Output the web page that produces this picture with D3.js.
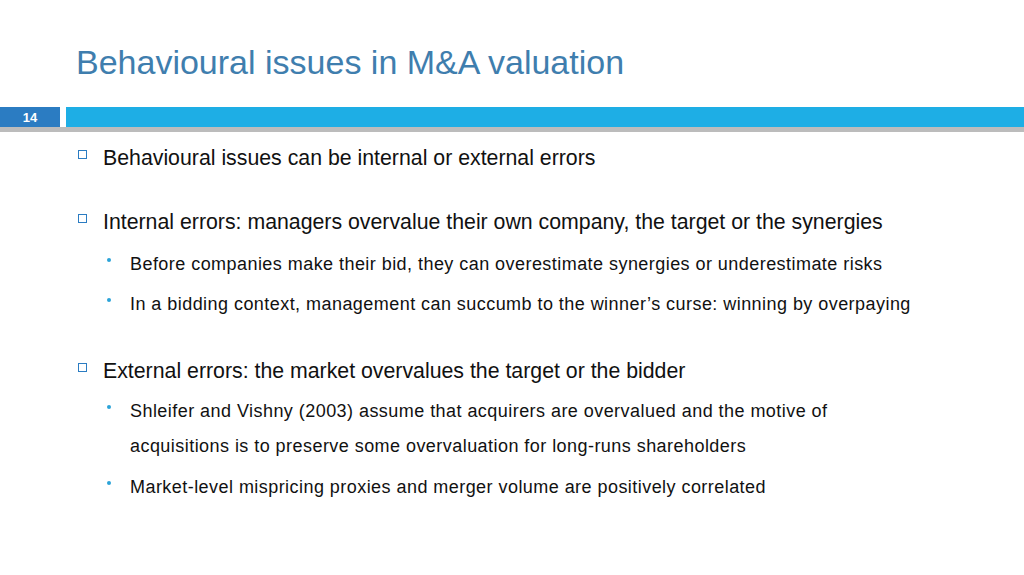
<!DOCTYPE html>
<html><head><meta charset="utf-8">
<script src="https://cdn.jsdelivr.net/npm/d3@7"></script>
<style>body{margin:0;background:#fff}svg{display:block;font-family:"Liberation Sans",Arial,sans-serif}</style>
</head><body>
<script>
const title = "Behavioural issues in M&A valuation";
const slideNumber = "14";
const lines = [
  {level: 1, text: "Behavioural issues can be internal or external errors", y: 165},
  {level: 1, text: "Internal errors: managers overvalue their own company, the target or the synergies", y: 229},
  {level: 2, text: "Before companies make their bid, they can overestimate synergies or underestimate risks", y: 270},
  {level: 2, text: "In a bidding context, management can succumb to the winner\u2019s curse: winning by overpaying", y: 310},
  {level: 1, text: "External errors: the market overvalues the target or the bidder", y: 378},
  {level: 2, text: "Shleifer and Vishny (2003) assume that acquirers are overvalued and the motive of", y: 417},
  {level: 0, text: "acquisitions is to preserve some overvaluation for long-runs shareholders", y: 452},
  {level: 2, text: "Market-level mispricing proxies and merger volume are positively correlated", y: 493}
];

const svg = d3.select("body").append("svg").attr("width", 1024).attr("height", 575);

svg.append("text").attr("x", 76).attr("y", 74).attr("font-size", 34)
  .attr("fill", "#3F7EAE").text(title);

// header band with shadow
svg.append("rect").attr("x", 0).attr("y", 127).attr("width", 1024).attr("height", 5).attr("fill", "#bcbcbc");
svg.append("rect").attr("x", 0).attr("y", 107).attr("width", 60).attr("height", 20).attr("fill", "#2B7CC2");
svg.append("rect").attr("x", 66).attr("y", 107).attr("width", 958).attr("height", 20).attr("fill", "#1EAEE5");
svg.append("text").attr("x", 30).attr("y", 122).attr("text-anchor", "middle")
  .attr("font-size", 13).attr("font-weight", "bold").attr("fill", "#fff").text(slideNumber);

const g = svg.append("g");
lines.forEach(d => {
  if (d.level === 1) {
    g.append("rect").attr("x", 78.5).attr("y", d.y - 14.5).attr("width", 8).attr("height", 8)
      .attr("fill", "none").attr("stroke", "#2B7CC2").attr("stroke-width", 1);
    g.append("text").attr("x", 103).attr("y", d.y).attr("font-size", 21.3).attr("fill", "#111").text(d.text);
  } else {
    if (d.level === 2) g.append("circle").attr("cx", 109).attr("cy", d.y - 10).attr("r", 2).attr("fill", "#2BA3D8");
    g.append("text").attr("x", 130).attr("y", d.y).attr("font-size", 18)
      .attr("letter-spacing", 0.45).attr("fill", "#111").text(d.text);
  }
});
</script>
</body></html>
